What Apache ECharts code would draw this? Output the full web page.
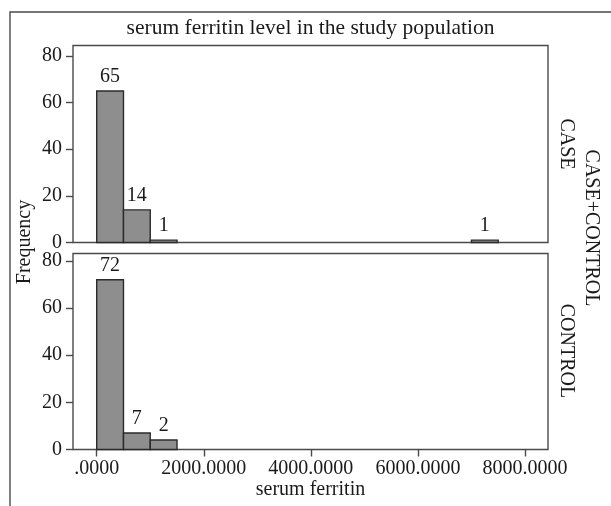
<!DOCTYPE html>
<html>
<head>
<meta charset="utf-8">
<script src="https://cdn.jsdelivr.net/npm/echarts@6/dist/echarts.min.js"></script>
<style>
  html, body { margin: 0; padding: 0; background: #fff; }
  #main { width: 611px; height: 506px; }
</style>
</head>
<body>
<div id="main"></div>
<script>
// histogram bins (lower edge), bin width 500
const binWidth = 500;
const caseBins = [0, 500, 1000, 7000];
const caseCounts = [65, 14, 1, 1];
const caseLabels = ['65', '14', '1', '1'];
const controlBins = [0, 500, 1000];
const controlCounts = [72, 7, 4];
const controlLabels = ['72', '7', '2'];
const xTicks = [0, 2000, 4000, 6000, 8000];
const yTicks = [0, 20, 40, 60, 80];

const font = '"Liberation Serif", "DejaVu Serif", serif';
const ink = '#1a1a1a';
const frame = '#4a4a4a';

function histData(bins, counts, labels) {
    return bins.map((b, i) => [b, b + binWidth, counts[i], labels[i]]);
}

function renderBar(params, api) {
    const p0 = api.coord([api.value(0), 0]);
    const p1 = api.coord([api.value(1), api.value(2)]);
    return {
        type: 'group',
        children: [{
            type: 'rect',
            shape: { x: p0[0], y: p1[1], width: p1[0] - p0[0], height: p0[1] - p1[1] },
            style: { fill: '#8e8e8e', stroke: '#2b2b2b', lineWidth: 1.4 }
        }, {
            type: 'text',
            x: (p0[0] + p1[0]) / 2,
            y: p1[1] - 4,
            style: {
                text: api.value(3), fill: ink, font: '20px ' + font,
                align: 'center', verticalAlign: 'bottom'
            }
        }]
    };
}

const myChart = echarts.init(document.getElementById('main'));

const gridBase = { left: 73, right: 63, show: true, borderColor: frame, borderWidth: 1.4, backgroundColor: '#fff' };

const xBase = {
    type: 'value', min: -443, max: 8430,
    splitLine: { show: false },
    axisLine: { show: false, onZero: false }
};
const yBase = {
    type: 'value', min: 0,
    splitLine: { show: false },
    axisLine: { show: false, onZero: false },
    axisTick: { show: true, length: 7, lineStyle: { color: frame, width: 1.4 }, customValues: yTicks },
    axisLabel: { fontFamily: font, fontSize: 20, color: ink, margin: 11, customValues: yTicks }
};

myChart.setOption({
    animation: false,
    backgroundColor: '#fff',
    grid: [
        Object.assign({ top: 45.5, height: 197 }, gridBase),
        Object.assign({ top: 253.5, height: 196 }, gridBase)
    ],
    xAxis: [
        Object.assign({ gridIndex: 0, axisTick: { show: false }, axisLabel: { show: false } }, xBase),
        Object.assign({
            gridIndex: 1,
            axisTick: { show: true, length: 7, lineStyle: { color: frame, width: 1.4 }, customValues: xTicks },
            axisLabel: {
                fontFamily: font, fontSize: 20, color: ink, margin: 9, customValues: xTicks,
                formatter: v => v === 0 ? '.0000' : v.toFixed(4)
            },
            name: 'serum ferritin', nameLocation: 'middle', nameGap: 30,
            nameTextStyle: { fontFamily: font, fontSize: 20, color: ink }
        }, xBase)
    ],
    yAxis: [
        Object.assign({ gridIndex: 0, max: 84.5 }, yBase),
        Object.assign({ gridIndex: 1, max: 83.1 }, yBase)
    ],
    series: [{
        type: 'custom', xAxisIndex: 0, yAxisIndex: 0,
        data: histData(caseBins, caseCounts, caseLabels),
        renderItem: renderBar
    }, {
        type: 'custom', xAxisIndex: 1, yAxisIndex: 1,
        data: histData(controlBins, controlCounts, controlLabels),
        renderItem: renderBar
    }],
    graphic: [
        { type: 'rect', z: -10, shape: { x: 10, y: 12, width: 700, height: 600 },
          style: { fill: 'none', stroke: frame, lineWidth: 1.4 } },
        { type: 'text', x: 310.5, y: 28, style: { text: 'serum ferritin level in the study population',
          font: '21.5px ' + font, fill: ink, align: 'center', verticalAlign: 'middle' } },
        { type: 'text', x: 25, y: 242, rotation: Math.PI / 2, style: { text: 'Frequency',
          font: '20px ' + font, fill: ink, align: 'center', verticalAlign: 'middle' } },
        { type: 'text', x: 566, y: 144, rotation: -Math.PI / 2, style: { text: 'CASE',
          font: '20px ' + font, fill: ink, align: 'center', verticalAlign: 'middle' } },
        { type: 'text', x: 566, y: 351, rotation: -Math.PI / 2, style: { text: 'CONTROL',
          font: '20px ' + font, fill: ink, align: 'center', verticalAlign: 'middle' } },
        { type: 'text', x: 591, y: 228, rotation: -Math.PI / 2, style: { text: 'CASE+CONTROL',
          font: '20px ' + font, fill: ink, align: 'center', verticalAlign: 'middle' } }
    ]
});
</script>
</body>
</html>
